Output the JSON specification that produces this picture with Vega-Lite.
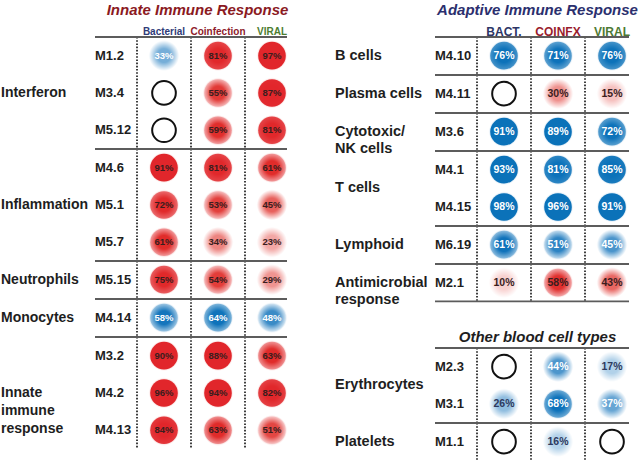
{
  "$schema": "https://vega.github.io/schema/vega-lite/v6.json",
  "padding": {"left": 1, "top": 2, "right": 0, "bottom": 0},
  "config": {"view": {"stroke": null}, "font": "Liberation Sans"},
  "datasets": {
    "modules": [
      {"panel": "innate", "group": "Interferon", "module": "M1.2", "cond": "Bacterial", "value": 0.33, "direction": "down"},
      {"panel": "innate", "group": "Interferon", "module": "M1.2", "cond": "Coinfection", "value": 0.81, "direction": "up"},
      {"panel": "innate", "group": "Interferon", "module": "M1.2", "cond": "Viral", "value": 0.97, "direction": "up"},
      {"panel": "innate", "group": "Interferon", "module": "M3.4", "cond": "Bacterial", "value": null, "direction": null},
      {"panel": "innate", "group": "Interferon", "module": "M3.4", "cond": "Coinfection", "value": 0.55, "direction": "up"},
      {"panel": "innate", "group": "Interferon", "module": "M3.4", "cond": "Viral", "value": 0.87, "direction": "up"},
      {"panel": "innate", "group": "Interferon", "module": "M5.12", "cond": "Bacterial", "value": null, "direction": null},
      {"panel": "innate", "group": "Interferon", "module": "M5.12", "cond": "Coinfection", "value": 0.59, "direction": "up"},
      {"panel": "innate", "group": "Interferon", "module": "M5.12", "cond": "Viral", "value": 0.81, "direction": "up"},
      {"panel": "innate", "group": "Inflammation", "module": "M4.6", "cond": "Bacterial", "value": 0.91, "direction": "up"},
      {"panel": "innate", "group": "Inflammation", "module": "M4.6", "cond": "Coinfection", "value": 0.81, "direction": "up"},
      {"panel": "innate", "group": "Inflammation", "module": "M4.6", "cond": "Viral", "value": 0.61, "direction": "up"},
      {"panel": "innate", "group": "Inflammation", "module": "M5.1", "cond": "Bacterial", "value": 0.72, "direction": "up"},
      {"panel": "innate", "group": "Inflammation", "module": "M5.1", "cond": "Coinfection", "value": 0.53, "direction": "up"},
      {"panel": "innate", "group": "Inflammation", "module": "M5.1", "cond": "Viral", "value": 0.45, "direction": "up"},
      {"panel": "innate", "group": "Inflammation", "module": "M5.7", "cond": "Bacterial", "value": 0.61, "direction": "up"},
      {"panel": "innate", "group": "Inflammation", "module": "M5.7", "cond": "Coinfection", "value": 0.34, "direction": "up"},
      {"panel": "innate", "group": "Inflammation", "module": "M5.7", "cond": "Viral", "value": 0.23, "direction": "up"},
      {"panel": "innate", "group": "Neutrophils", "module": "M5.15", "cond": "Bacterial", "value": 0.75, "direction": "up"},
      {"panel": "innate", "group": "Neutrophils", "module": "M5.15", "cond": "Coinfection", "value": 0.54, "direction": "up"},
      {"panel": "innate", "group": "Neutrophils", "module": "M5.15", "cond": "Viral", "value": 0.29, "direction": "up"},
      {"panel": "innate", "group": "Monocytes", "module": "M4.14", "cond": "Bacterial", "value": 0.58, "direction": "down"},
      {"panel": "innate", "group": "Monocytes", "module": "M4.14", "cond": "Coinfection", "value": 0.64, "direction": "down"},
      {"panel": "innate", "group": "Monocytes", "module": "M4.14", "cond": "Viral", "value": 0.48, "direction": "down"},
      {"panel": "innate", "group": "Innate immune response", "module": "M3.2", "cond": "Bacterial", "value": 0.90, "direction": "up"},
      {"panel": "innate", "group": "Innate immune response", "module": "M3.2", "cond": "Coinfection", "value": 0.88, "direction": "up"},
      {"panel": "innate", "group": "Innate immune response", "module": "M3.2", "cond": "Viral", "value": 0.63, "direction": "up"},
      {"panel": "innate", "group": "Innate immune response", "module": "M4.2", "cond": "Bacterial", "value": 0.96, "direction": "up"},
      {"panel": "innate", "group": "Innate immune response", "module": "M4.2", "cond": "Coinfection", "value": 0.94, "direction": "up"},
      {"panel": "innate", "group": "Innate immune response", "module": "M4.2", "cond": "Viral", "value": 0.82, "direction": "up"},
      {"panel": "innate", "group": "Innate immune response", "module": "M4.13", "cond": "Bacterial", "value": 0.84, "direction": "up"},
      {"panel": "innate", "group": "Innate immune response", "module": "M4.13", "cond": "Coinfection", "value": 0.63, "direction": "up"},
      {"panel": "innate", "group": "Innate immune response", "module": "M4.13", "cond": "Viral", "value": 0.51, "direction": "up"},
      {"panel": "adaptive", "group": "B cells", "module": "M4.10", "cond": "Bacterial", "value": 0.76, "direction": "down"},
      {"panel": "adaptive", "group": "B cells", "module": "M4.10", "cond": "Coinfection", "value": 0.71, "direction": "down"},
      {"panel": "adaptive", "group": "B cells", "module": "M4.10", "cond": "Viral", "value": 0.76, "direction": "down"},
      {"panel": "adaptive", "group": "Plasma cells", "module": "M4.11", "cond": "Bacterial", "value": null, "direction": null},
      {"panel": "adaptive", "group": "Plasma cells", "module": "M4.11", "cond": "Coinfection", "value": 0.30, "direction": "up"},
      {"panel": "adaptive", "group": "Plasma cells", "module": "M4.11", "cond": "Viral", "value": 0.15, "direction": "up"},
      {"panel": "adaptive", "group": "Cytotoxic/NK cells", "module": "M3.6", "cond": "Bacterial", "value": 0.91, "direction": "down"},
      {"panel": "adaptive", "group": "Cytotoxic/NK cells", "module": "M3.6", "cond": "Coinfection", "value": 0.89, "direction": "down"},
      {"panel": "adaptive", "group": "Cytotoxic/NK cells", "module": "M3.6", "cond": "Viral", "value": 0.72, "direction": "down"},
      {"panel": "adaptive", "group": "T cells", "module": "M4.1", "cond": "Bacterial", "value": 0.93, "direction": "down"},
      {"panel": "adaptive", "group": "T cells", "module": "M4.1", "cond": "Coinfection", "value": 0.81, "direction": "down"},
      {"panel": "adaptive", "group": "T cells", "module": "M4.1", "cond": "Viral", "value": 0.85, "direction": "down"},
      {"panel": "adaptive", "group": "T cells", "module": "M4.15", "cond": "Bacterial", "value": 0.98, "direction": "down"},
      {"panel": "adaptive", "group": "T cells", "module": "M4.15", "cond": "Coinfection", "value": 0.96, "direction": "down"},
      {"panel": "adaptive", "group": "T cells", "module": "M4.15", "cond": "Viral", "value": 0.91, "direction": "down"},
      {"panel": "adaptive", "group": "Lymphoid", "module": "M6.19", "cond": "Bacterial", "value": 0.61, "direction": "down"},
      {"panel": "adaptive", "group": "Lymphoid", "module": "M6.19", "cond": "Coinfection", "value": 0.51, "direction": "down"},
      {"panel": "adaptive", "group": "Lymphoid", "module": "M6.19", "cond": "Viral", "value": 0.45, "direction": "down"},
      {"panel": "adaptive", "group": "Antimicrobial response", "module": "M2.1", "cond": "Bacterial", "value": 0.10, "direction": "up"},
      {"panel": "adaptive", "group": "Antimicrobial response", "module": "M2.1", "cond": "Coinfection", "value": 0.58, "direction": "up"},
      {"panel": "adaptive", "group": "Antimicrobial response", "module": "M2.1", "cond": "Viral", "value": 0.43, "direction": "up"},
      {"panel": "other", "group": "Erythrocytes", "module": "M2.3", "cond": "Bacterial", "value": null, "direction": null},
      {"panel": "other", "group": "Erythrocytes", "module": "M2.3", "cond": "Coinfection", "value": 0.44, "direction": "down"},
      {"panel": "other", "group": "Erythrocytes", "module": "M2.3", "cond": "Viral", "value": 0.17, "direction": "down"},
      {"panel": "other", "group": "Erythrocytes", "module": "M3.1", "cond": "Bacterial", "value": 0.26, "direction": "down"},
      {"panel": "other", "group": "Erythrocytes", "module": "M3.1", "cond": "Coinfection", "value": 0.68, "direction": "down"},
      {"panel": "other", "group": "Erythrocytes", "module": "M3.1", "cond": "Viral", "value": 0.37, "direction": "down"},
      {"panel": "other", "group": "Platelets", "module": "M1.1", "cond": "Bacterial", "value": null, "direction": null},
      {"panel": "other", "group": "Platelets", "module": "M1.1", "cond": "Coinfection", "value": 0.16, "direction": "down"},
      {"panel": "other", "group": "Platelets", "module": "M1.1", "cond": "Viral", "value": null, "direction": null}
    ]
  },
  "hconcat": [
    {
      "data": {"name": "modules"},
      "transform": [{"filter": "datum.panel == 'innate'"}],
      "facet": {"row": {"field": "group", "type": "nominal", "title": null,
        "sort": ["Interferon", "Inflammation", "Neutrophils", "Monocytes", "Innate immune response"],
        "header": {"labels": false, "title": null}}},
      "spacing": {"row": 0},
      "align": "each",
      "bounds": "flush",
      "resolve": {"scale": {"y": "independent"}},
      "spec": {
        "width": 204,
        "height": {"step": 37.3},
        "layer": [
          {"transform": [{"window": [{"op": "row_number", "as": "rn"}], "groupby": ["group"]}, {"filter": "datum.rn <= 3"}],
           "mark": {"type": "rule", "color": "#111111", "strokeWidth": 1.6, "strokeDash": [1.6, 1.6]},
           "encoding": {"x": {"field": "cond", "type": "nominal", "bandPosition": 0, "scale": {"type": "band", "domain": ["Bacterial", "Coinfection", "Viral"], "paddingInner": 0, "paddingOuter": 0.3889, "align": 1}}}},
          {"transform": [{"window": [{"op": "row_number", "as": "rn"}], "groupby": ["group"]}, {"filter": "datum.rn == 1"}],
           "mark": {"type": "rule", "color": "#5c5c5c", "strokeWidth": 1.8, "xOffset": -42, "x2Offset": -12},
           "encoding": {
             "x": {"field": "cond", "type": "nominal", "bandPosition": 0, "scale": {"type": "band", "domain": ["Bacterial", "Coinfection", "Viral"], "paddingInner": 0, "paddingOuter": 0.3889, "align": 1}},
             "x2": {"value": "width"},
             "y": {"field": "module", "type": "nominal", "sort": null, "bandPosition": 0, "scale": {"type": "band", "paddingInner": 0, "paddingOuter": 0}, "axis": null}}},
          {"transform": [{"filter": "datum.value == null"}],
           "mark": {"type": "point", "filled": false, "stroke": "#111111", "strokeWidth": 2, "size": 560, "opacity": 1},
           "encoding": {
             "x": {"field": "cond", "type": "nominal", "scale": {"type": "band", "domain": ["Bacterial", "Coinfection", "Viral"], "paddingInner": 0, "paddingOuter": 0.3889, "align": 1}},
             "y": {"field": "module", "type": "nominal", "sort": null, "scale": {"type": "band", "paddingInner": 0, "paddingOuter": 0}, "axis": null}}},
          {"transform": [{"filter": "datum.value != null && datum.direction == 'up'"}],
           "mark": {"type": "point", "filled": true, "size": 920, "strokeWidth": 0,
             "fill": {"gradient": "radial", "x1": 0.5, "y1": 0.5, "r1": 0, "x2": 0.5, "y2": 0.5, "r2": 0.5, "stops": [{"offset": 0, "color": "#e0302a"}, {"offset": 0.45, "color": "#e0302a"}, {"offset": 1, "color": "rgba(226,48,43,0)"}]}},
           "encoding": {
             "x": {"field": "cond", "type": "nominal", "scale": {"type": "band", "domain": ["Bacterial", "Coinfection", "Viral"], "paddingInner": 0, "paddingOuter": 0.3889, "align": 1}},
             "y": {"field": "module", "type": "nominal", "sort": null, "scale": {"type": "band", "paddingInner": 0, "paddingOuter": 0}, "axis": null},
             "opacity": {"field": "value", "type": "quantitative", "scale": {"domain": [0.1, 0.6], "range": [0.22, 1], "clamp": true}, "legend": null}}},
          {"transform": [{"filter": "datum.value != null && datum.direction == 'down'"}],
           "mark": {"type": "point", "filled": true, "size": 920, "strokeWidth": 0,
             "fill": {"gradient": "radial", "x1": 0.5, "y1": 0.5, "r1": 0, "x2": 0.5, "y2": 0.5, "r2": 0.5, "stops": [{"offset": 0, "color": "#1273bb"}, {"offset": 0.45, "color": "#1273bb"}, {"offset": 1, "color": "rgba(18,115,187,0)"}]}},
           "encoding": {
             "x": {"field": "cond", "type": "nominal", "scale": {"type": "band", "domain": ["Bacterial", "Coinfection", "Viral"], "paddingInner": 0, "paddingOuter": 0.3889, "align": 1}},
             "y": {"field": "module", "type": "nominal", "sort": null, "scale": {"type": "band", "paddingInner": 0, "paddingOuter": 0}, "axis": null},
             "opacity": {"field": "value", "type": "quantitative", "scale": {"domain": [0.1, 0.6], "range": [0.22, 1], "clamp": true}, "legend": null}}},
          {"transform": [{"filter": "datum.value != null"}],
           "mark": {"type": "point", "filled": true, "size": 760, "strokeWidth": 0, "opacity": 1},
           "encoding": {
             "x": {"field": "cond", "type": "nominal", "scale": {"type": "band", "domain": ["Bacterial", "Coinfection", "Viral"], "paddingInner": 0, "paddingOuter": 0.3889, "align": 1},
               "axis": {"orient": "top", "title": "Innate Immune Response", "ticks": false, "tickSize": 0, "domain": false, "grid": false, "labelOverlap": false, "bandPosition": 0.5,
                 "labelExpr": "datum.value == 'Viral' ? 'VIRAL' : datum.value",
                 "labelFont": "Liberation Sans", "labelFontSize": 10, "labelFontWeight": "bold", "labelPadding": 6, "labelAngle": 0, "labelAlign": "center",
                 "labelColor": {"expr": "datum.value == 'Bacterial' ? '#2f3b78' : datum.value == 'Coinfection' ? '#8e1b2c' : '#4d7d30'"},
                 "titleFont": "Liberation Sans", "titleFontSize": 15, "titleFontStyle": "italic", "titleFontWeight": "bold", "titleColor": "#8b1a1f", "titlePadding": 9}},
             "y": {"field": "module", "type": "nominal", "sort": null, "scale": {"type": "band", "paddingInner": 0, "paddingOuter": 0}, "axis": null},
             "color": {"field": "direction", "type": "nominal", "scale": {"domain": ["up", "down"], "range": ["#e1262b", "#0b72b9"]}, "legend": null},
             "fillOpacity": {"field": "value", "type": "quantitative", "scale": {"domain": [0.45, 0.88], "range": [0, 1], "clamp": true}, "legend": null}}},
          {"transform": [{"filter": "datum.value != null"}],
           "mark": {"type": "text", "font": "Liberation Sans", "fontWeight": "bold", "fontSize": 9.5},
           "encoding": {
             "x": {"field": "cond", "type": "nominal", "scale": {"type": "band", "domain": ["Bacterial", "Coinfection", "Viral"], "paddingInner": 0, "paddingOuter": 0.3889, "align": 1}},
             "y": {"field": "module", "type": "nominal", "sort": null, "scale": {"type": "band", "paddingInner": 0, "paddingOuter": 0}, "axis": null},
             "text": {"field": "value", "type": "quantitative", "format": ".0%"},
             "color": {"condition": [{"test": "datum.direction == 'down' && datum.value >= 0.3", "value": "#ffffff"}, {"test": "datum.direction == 'down'", "value": "#2d3a5e"}], "value": "#3a1e1e"}}},
          {"transform": [{"filter": "datum.cond == 'Bacterial'"}],
           "mark": {"type": "text", "align": "left", "dx": -42, "font": "Liberation Sans", "fontWeight": "bold", "fontSize": 13, "color": "#1e1e1e"},
           "encoding": {
             "x": {"field": "cond", "type": "nominal", "bandPosition": 0, "scale": {"type": "band", "domain": ["Bacterial", "Coinfection", "Viral"], "paddingInner": 0, "paddingOuter": 0.3889, "align": 1}},
             "y": {"field": "module", "type": "nominal", "sort": null, "scale": {"type": "band", "paddingInner": 0, "paddingOuter": 0}, "axis": null},
             "text": {"field": "module", "type": "nominal"}}},
          {"transform": [{"window": [{"op": "row_number", "as": "rn"}], "groupby": ["group"]},
             {"joinaggregate": [{"op": "count", "as": "n"}], "groupby": ["group"]},
             {"filter": "datum.cond == 'Bacterial'"},
             {"calculate": "(datum.rn + 2) / 3", "as": "k"},
             {"calculate": "datum.n / 3", "as": "m"},
             {"filter": "datum.m % 2 == 1 && datum.k == (datum.m + 1) / 2"},
             {"calculate": "datum.group == 'Innate immune response' ? ['Innate','immune','response'] : datum.group", "as": "label"}],
           "mark": {"type": "text", "align": "left", "baseline": "middle", "dx": -136, "font": "Liberation Sans", "fontWeight": "bold", "fontSize": 14, "lineHeight": 18, "color": "#1e1e1e"},
           "encoding": {
             "x": {"field": "cond", "type": "nominal", "bandPosition": 0, "scale": {"type": "band", "domain": ["Bacterial", "Coinfection", "Viral"], "paddingInner": 0, "paddingOuter": 0.3889, "align": 1}},
             "y": {"field": "module", "type": "nominal", "sort": null, "scale": {"type": "band", "paddingInner": 0, "paddingOuter": 0}, "axis": null},
             "text": {"field": "label"}}}
        ]
      }
    },
    {
      "spacing": 22,
      "vconcat": [
        {
          "data": {"name": "modules"},
          "transform": [{"filter": "datum.panel == 'adaptive'"}],
          "facet": {"row": {"field": "group", "type": "nominal", "title": null,
            "sort": ["B cells", "Plasma cells", "Cytotoxic/NK cells", "T cells", "Lymphoid", "Antimicrobial response"],
            "header": {"labels": false, "title": null}}},
          "spacing": {"row": 0},
          "align": "each",
          "bounds": "flush",
          "resolve": {"scale": {"y": "independent"}},
          "spec": {
            "width": 204,
            "height": {"step": 37.3},
            "layer": [
              {"transform": [{"window": [{"op": "row_number", "as": "rn"}], "groupby": ["group"]}, {"filter": "datum.rn <= 3"}],
               "mark": {"type": "rule", "color": "#111111", "strokeWidth": 1.6, "strokeDash": [1.6, 1.6]},
               "encoding": {"x": {"field": "cond", "type": "nominal", "bandPosition": 0, "scale": {"type": "band", "domain": ["Bacterial", "Coinfection", "Viral"], "paddingInner": 0, "paddingOuter": 0.3889, "align": 1}}}},
              {"transform": [{"window": [{"op": "row_number", "as": "rn"}], "groupby": ["group"]}, {"filter": "datum.rn == 1"}],
               "mark": {"type": "rule", "color": "#5c5c5c", "strokeWidth": 1.8, "xOffset": -42, "x2Offset": -10},
               "encoding": {
                 "x": {"field": "cond", "type": "nominal", "bandPosition": 0, "scale": {"type": "band", "domain": ["Bacterial", "Coinfection", "Viral"], "paddingInner": 0, "paddingOuter": 0.3889, "align": 1}},
                 "x2": {"value": "width"},
                 "y": {"field": "module", "type": "nominal", "sort": null, "bandPosition": 0, "scale": {"type": "band", "paddingInner": 0, "paddingOuter": 0}, "axis": null}}},
              {"transform": [{"filter": "datum.group == 'Antimicrobial response' && datum.cond == 'Bacterial'"}],
               "mark": {"type": "rule", "color": "#5c5c5c", "strokeWidth": 1.8, "xOffset": -42, "x2Offset": -10},
               "encoding": {
                 "x": {"field": "cond", "type": "nominal", "bandPosition": 0, "scale": {"type": "band", "domain": ["Bacterial", "Coinfection", "Viral"], "paddingInner": 0, "paddingOuter": 0.3889, "align": 1}},
                 "x2": {"value": "width"},
                 "y": {"field": "module", "type": "nominal", "sort": null, "bandPosition": 1, "scale": {"type": "band", "paddingInner": 0, "paddingOuter": 0}, "axis": null}}},
              {"transform": [{"filter": "datum.value == null"}],
               "mark": {"type": "point", "filled": false, "stroke": "#111111", "strokeWidth": 2, "size": 560, "opacity": 1},
               "encoding": {
                 "x": {"field": "cond", "type": "nominal", "scale": {"type": "band", "domain": ["Bacterial", "Coinfection", "Viral"], "paddingInner": 0, "paddingOuter": 0.3889, "align": 1}},
                 "y": {"field": "module", "type": "nominal", "sort": null, "scale": {"type": "band", "paddingInner": 0, "paddingOuter": 0}, "axis": null}}},
              {"transform": [{"filter": "datum.value != null && datum.direction == 'up'"}],
               "mark": {"type": "point", "filled": true, "size": 920, "strokeWidth": 0,
                 "fill": {"gradient": "radial", "x1": 0.5, "y1": 0.5, "r1": 0, "x2": 0.5, "y2": 0.5, "r2": 0.5, "stops": [{"offset": 0, "color": "#e0302a"}, {"offset": 0.45, "color": "#e0302a"}, {"offset": 1, "color": "rgba(226,48,43,0)"}]}},
               "encoding": {
                 "x": {"field": "cond", "type": "nominal", "scale": {"type": "band", "domain": ["Bacterial", "Coinfection", "Viral"], "paddingInner": 0, "paddingOuter": 0.3889, "align": 1}},
                 "y": {"field": "module", "type": "nominal", "sort": null, "scale": {"type": "band", "paddingInner": 0, "paddingOuter": 0}, "axis": null},
                 "opacity": {"field": "value", "type": "quantitative", "scale": {"domain": [0.1, 0.6], "range": [0.22, 1], "clamp": true}, "legend": null}}},
              {"transform": [{"filter": "datum.value != null && datum.direction == 'down'"}],
               "mark": {"type": "point", "filled": true, "size": 920, "strokeWidth": 0,
                 "fill": {"gradient": "radial", "x1": 0.5, "y1": 0.5, "r1": 0, "x2": 0.5, "y2": 0.5, "r2": 0.5, "stops": [{"offset": 0, "color": "#1273bb"}, {"offset": 0.45, "color": "#1273bb"}, {"offset": 1, "color": "rgba(18,115,187,0)"}]}},
               "encoding": {
                 "x": {"field": "cond", "type": "nominal", "scale": {"type": "band", "domain": ["Bacterial", "Coinfection", "Viral"], "paddingInner": 0, "paddingOuter": 0.3889, "align": 1}},
                 "y": {"field": "module", "type": "nominal", "sort": null, "scale": {"type": "band", "paddingInner": 0, "paddingOuter": 0}, "axis": null},
                 "opacity": {"field": "value", "type": "quantitative", "scale": {"domain": [0.1, 0.6], "range": [0.22, 1], "clamp": true}, "legend": null}}},
              {"transform": [{"filter": "datum.value != null"}],
               "mark": {"type": "point", "filled": true, "size": 760, "strokeWidth": 0, "opacity": 1},
               "encoding": {
                 "x": {"field": "cond", "type": "nominal", "scale": {"type": "band", "domain": ["Bacterial", "Coinfection", "Viral"], "paddingInner": 0, "paddingOuter": 0.3889, "align": 1},
                   "axis": {"orient": "top", "title": "Adaptive Immune Response", "ticks": false, "tickSize": 0, "domain": false, "grid": false, "labelOverlap": false, "bandPosition": 0.5,
                     "labelExpr": "datum.value == 'Bacterial' ? 'BACT.' : datum.value == 'Coinfection' ? 'COINFX' : 'VIRAL'",
                     "labelFont": "Liberation Sans", "labelFontSize": 12, "labelFontWeight": "bold", "labelPadding": 6, "labelAngle": 0, "labelAlign": "center",
                     "labelColor": {"expr": "datum.value == 'Bacterial' ? '#2c3566' : datum.value == 'Coinfection' ? '#9a1c2c' : '#4e7a34'"},
                     "titleFont": "Liberation Sans", "titleFontSize": 15, "titleFontStyle": "italic", "titleFontWeight": "bold", "titleColor": "#2b2f6e", "titlePadding": 8}},
                 "y": {"field": "module", "type": "nominal", "sort": null, "scale": {"type": "band", "paddingInner": 0, "paddingOuter": 0}, "axis": null},
                 "color": {"field": "direction", "type": "nominal", "scale": {"domain": ["up", "down"], "range": ["#e1262b", "#0b72b9"]}, "legend": null},
                 "fillOpacity": {"field": "value", "type": "quantitative", "scale": {"domain": [0.45, 0.88], "range": [0, 1], "clamp": true}, "legend": null}}},
              {"transform": [{"filter": "datum.value != null"}],
               "mark": {"type": "text", "font": "Liberation Sans", "fontWeight": "bold", "fontSize": 10.5},
               "encoding": {
                 "x": {"field": "cond", "type": "nominal", "scale": {"type": "band", "domain": ["Bacterial", "Coinfection", "Viral"], "paddingInner": 0, "paddingOuter": 0.3889, "align": 1}},
                 "y": {"field": "module", "type": "nominal", "sort": null, "scale": {"type": "band", "paddingInner": 0, "paddingOuter": 0}, "axis": null},
                 "text": {"field": "value", "type": "quantitative", "format": ".0%"},
                 "color": {"condition": [{"test": "datum.direction == 'down' && datum.value >= 0.3", "value": "#ffffff"}, {"test": "datum.direction == 'down'", "value": "#2d3a5e"}], "value": "#3a1e1e"}}},
              {"transform": [{"filter": "datum.cond == 'Bacterial'"}],
               "mark": {"type": "text", "align": "left", "dx": -42, "font": "Liberation Sans", "fontWeight": "bold", "fontSize": 13, "color": "#1e1e1e"},
               "encoding": {
                 "x": {"field": "cond", "type": "nominal", "bandPosition": 0, "scale": {"type": "band", "domain": ["Bacterial", "Coinfection", "Viral"], "paddingInner": 0, "paddingOuter": 0.3889, "align": 1}},
                 "y": {"field": "module", "type": "nominal", "sort": null, "scale": {"type": "band", "paddingInner": 0, "paddingOuter": 0}, "axis": null},
                 "text": {"field": "module", "type": "nominal"}}},
              {"transform": [{"window": [{"op": "row_number", "as": "rn"}], "groupby": ["group"]},
                 {"joinaggregate": [{"op": "count", "as": "n"}], "groupby": ["group"]},
                 {"filter": "datum.cond == 'Bacterial'"},
                 {"calculate": "(datum.rn + 2) / 3", "as": "k"},
                 {"calculate": "datum.n / 3", "as": "m"},
                 {"filter": "datum.m % 2 == 1 && datum.k == (datum.m + 1) / 2"},
                 {"calculate": "datum.group == 'Cytotoxic/NK cells' ? ['Cytotoxic/','NK cells'] : datum.group == 'Antimicrobial response' ? ['Antimicrobial','response'] : datum.group", "as": "label"}],
               "mark": {"type": "text", "align": "left", "baseline": "middle", "dx": -142, "font": "Liberation Sans", "fontWeight": "bold", "fontSize": 14.5, "lineHeight": 17, "color": "#1e1e1e"},
               "encoding": {
                 "x": {"field": "cond", "type": "nominal", "bandPosition": 0, "scale": {"type": "band", "domain": ["Bacterial", "Coinfection", "Viral"], "paddingInner": 0, "paddingOuter": 0.3889, "align": 1}},
                 "y": {"field": "module", "type": "nominal", "sort": null, "scale": {"type": "band", "paddingInner": 0, "paddingOuter": 0}, "axis": null},
                 "text": {"field": "label"}}},
              {"transform": [{"window": [{"op": "row_number", "as": "rn"}], "groupby": ["group"]},
                 {"joinaggregate": [{"op": "count", "as": "n"}], "groupby": ["group"]},
                 {"filter": "datum.cond == 'Bacterial'"},
                 {"calculate": "(datum.rn + 2) / 3", "as": "k"},
                 {"calculate": "datum.n / 3", "as": "m"},
                 {"filter": "datum.m % 2 == 0 && datum.k == datum.m / 2"}],
               "mark": {"type": "text", "align": "left", "baseline": "middle", "dx": -142, "font": "Liberation Sans", "fontWeight": "bold", "fontSize": 14.5, "color": "#1e1e1e"},
               "encoding": {
                 "x": {"field": "cond", "type": "nominal", "bandPosition": 0, "scale": {"type": "band", "domain": ["Bacterial", "Coinfection", "Viral"], "paddingInner": 0, "paddingOuter": 0.3889, "align": 1}},
                 "y": {"field": "module", "type": "nominal", "sort": null, "bandPosition": 1, "scale": {"type": "band", "paddingInner": 0, "paddingOuter": 0}, "axis": null},
                 "text": {"field": "group"}}}
            ]
          }
        },
        {
          "data": {"name": "modules"},
          "transform": [{"filter": "datum.panel == 'other'"}],
          "facet": {"row": {"field": "group", "type": "nominal", "title": null,
            "sort": ["Erythrocytes", "Platelets"],
            "header": {"labels": false, "title": null}}},
          "spacing": {"row": 0},
          "align": "each",
          "bounds": "flush",
          "resolve": {"scale": {"y": "independent"}},
          "spec": {
            "width": 204,
            "height": {"step": 37.3},
            "layer": [
              {"transform": [{"window": [{"op": "row_number", "as": "rn"}], "groupby": ["group"]}, {"filter": "datum.rn <= 3"}],
               "mark": {"type": "rule", "color": "#111111", "strokeWidth": 1.6, "strokeDash": [1.6, 1.6]},
               "encoding": {"x": {"field": "cond", "type": "nominal", "bandPosition": 0, "scale": {"type": "band", "domain": ["Bacterial", "Coinfection", "Viral"], "paddingInner": 0, "paddingOuter": 0.3889, "align": 1}}}},
              {"transform": [{"window": [{"op": "row_number", "as": "rn"}], "groupby": ["group"]}, {"filter": "datum.rn == 1"}],
               "mark": {"type": "rule", "color": "#5c5c5c", "strokeWidth": 1.8, "xOffset": -42, "x2Offset": -10},
               "encoding": {
                 "x": {"field": "cond", "type": "nominal", "bandPosition": 0, "scale": {"type": "band", "domain": ["Bacterial", "Coinfection", "Viral"], "paddingInner": 0, "paddingOuter": 0.3889, "align": 1}},
                 "x2": {"value": "width"},
                 "y": {"field": "module", "type": "nominal", "sort": null, "bandPosition": 0, "scale": {"type": "band", "paddingInner": 0, "paddingOuter": 0}, "axis": null}}},
              {"transform": [{"filter": "datum.value == null"}],
               "mark": {"type": "point", "filled": false, "stroke": "#111111", "strokeWidth": 2, "size": 560, "opacity": 1},
               "encoding": {
                 "x": {"field": "cond", "type": "nominal", "scale": {"type": "band", "domain": ["Bacterial", "Coinfection", "Viral"], "paddingInner": 0, "paddingOuter": 0.3889, "align": 1}},
                 "y": {"field": "module", "type": "nominal", "sort": null, "scale": {"type": "band", "paddingInner": 0, "paddingOuter": 0}, "axis": null}}},
              {"transform": [{"filter": "datum.value != null && datum.direction == 'up'"}],
               "mark": {"type": "point", "filled": true, "size": 920, "strokeWidth": 0,
                 "fill": {"gradient": "radial", "x1": 0.5, "y1": 0.5, "r1": 0, "x2": 0.5, "y2": 0.5, "r2": 0.5, "stops": [{"offset": 0, "color": "#e0302a"}, {"offset": 0.45, "color": "#e0302a"}, {"offset": 1, "color": "rgba(226,48,43,0)"}]}},
               "encoding": {
                 "x": {"field": "cond", "type": "nominal", "scale": {"type": "band", "domain": ["Bacterial", "Coinfection", "Viral"], "paddingInner": 0, "paddingOuter": 0.3889, "align": 1}},
                 "y": {"field": "module", "type": "nominal", "sort": null, "scale": {"type": "band", "paddingInner": 0, "paddingOuter": 0}, "axis": null},
                 "opacity": {"field": "value", "type": "quantitative", "scale": {"domain": [0.1, 0.6], "range": [0.22, 1], "clamp": true}, "legend": null}}},
              {"transform": [{"filter": "datum.value != null && datum.direction == 'down'"}],
               "mark": {"type": "point", "filled": true, "size": 920, "strokeWidth": 0,
                 "fill": {"gradient": "radial", "x1": 0.5, "y1": 0.5, "r1": 0, "x2": 0.5, "y2": 0.5, "r2": 0.5, "stops": [{"offset": 0, "color": "#1273bb"}, {"offset": 0.45, "color": "#1273bb"}, {"offset": 1, "color": "rgba(18,115,187,0)"}]}},
               "encoding": {
                 "x": {"field": "cond", "type": "nominal", "scale": {"type": "band", "domain": ["Bacterial", "Coinfection", "Viral"], "paddingInner": 0, "paddingOuter": 0.3889, "align": 1}},
                 "y": {"field": "module", "type": "nominal", "sort": null, "scale": {"type": "band", "paddingInner": 0, "paddingOuter": 0}, "axis": null},
                 "opacity": {"field": "value", "type": "quantitative", "scale": {"domain": [0.1, 0.6], "range": [0.22, 1], "clamp": true}, "legend": null}}},
              {"transform": [{"filter": "datum.value != null"}],
               "mark": {"type": "point", "filled": true, "size": 760, "strokeWidth": 0, "opacity": 1},
               "encoding": {
                 "x": {"field": "cond", "type": "nominal", "scale": {"type": "band", "domain": ["Bacterial", "Coinfection", "Viral"], "paddingInner": 0, "paddingOuter": 0.3889, "align": 1},
                   "axis": {"orient": "top", "title": "Other blood cell types", "ticks": false, "tickSize": 0, "domain": false, "grid": false, "labels": false,
                     "titleFont": "Liberation Sans", "titleFontSize": 15, "titleFontStyle": "italic", "titleFontWeight": "bold", "titleColor": "#1e1e1e", "titlePadding": 4}},
                 "y": {"field": "module", "type": "nominal", "sort": null, "scale": {"type": "band", "paddingInner": 0, "paddingOuter": 0}, "axis": null},
                 "color": {"field": "direction", "type": "nominal", "scale": {"domain": ["up", "down"], "range": ["#e1262b", "#0b72b9"]}, "legend": null},
                 "fillOpacity": {"field": "value", "type": "quantitative", "scale": {"domain": [0.45, 0.88], "range": [0, 1], "clamp": true}, "legend": null}}},
              {"transform": [{"filter": "datum.value != null"}],
               "mark": {"type": "text", "font": "Liberation Sans", "fontWeight": "bold", "fontSize": 10.5},
               "encoding": {
                 "x": {"field": "cond", "type": "nominal", "scale": {"type": "band", "domain": ["Bacterial", "Coinfection", "Viral"], "paddingInner": 0, "paddingOuter": 0.3889, "align": 1}},
                 "y": {"field": "module", "type": "nominal", "sort": null, "scale": {"type": "band", "paddingInner": 0, "paddingOuter": 0}, "axis": null},
                 "text": {"field": "value", "type": "quantitative", "format": ".0%"},
                 "color": {"condition": [{"test": "datum.direction == 'down' && datum.value >= 0.3", "value": "#ffffff"}, {"test": "datum.direction == 'down'", "value": "#2d3a5e"}], "value": "#3a1e1e"}}},
              {"transform": [{"filter": "datum.cond == 'Bacterial'"}],
               "mark": {"type": "text", "align": "left", "dx": -42, "font": "Liberation Sans", "fontWeight": "bold", "fontSize": 13, "color": "#1e1e1e"},
               "encoding": {
                 "x": {"field": "cond", "type": "nominal", "bandPosition": 0, "scale": {"type": "band", "domain": ["Bacterial", "Coinfection", "Viral"], "paddingInner": 0, "paddingOuter": 0.3889, "align": 1}},
                 "y": {"field": "module", "type": "nominal", "sort": null, "scale": {"type": "band", "paddingInner": 0, "paddingOuter": 0}, "axis": null},
                 "text": {"field": "module", "type": "nominal"}}},
              {"transform": [{"window": [{"op": "row_number", "as": "rn"}], "groupby": ["group"]},
                 {"joinaggregate": [{"op": "count", "as": "n"}], "groupby": ["group"]},
                 {"filter": "datum.cond == 'Bacterial'"},
                 {"calculate": "(datum.rn + 2) / 3", "as": "k"},
                 {"calculate": "datum.n / 3", "as": "m"},
                 {"filter": "datum.m % 2 == 1 && datum.k == (datum.m + 1) / 2"}],
               "mark": {"type": "text", "align": "left", "baseline": "middle", "dx": -142, "font": "Liberation Sans", "fontWeight": "bold", "fontSize": 14.5, "color": "#1e1e1e"},
               "encoding": {
                 "x": {"field": "cond", "type": "nominal", "bandPosition": 0, "scale": {"type": "band", "domain": ["Bacterial", "Coinfection", "Viral"], "paddingInner": 0, "paddingOuter": 0.3889, "align": 1}},
                 "y": {"field": "module", "type": "nominal", "sort": null, "scale": {"type": "band", "paddingInner": 0, "paddingOuter": 0}, "axis": null},
                 "text": {"field": "group"}}},
              {"transform": [{"window": [{"op": "row_number", "as": "rn"}], "groupby": ["group"]},
                 {"joinaggregate": [{"op": "count", "as": "n"}], "groupby": ["group"]},
                 {"filter": "datum.cond == 'Bacterial'"},
                 {"calculate": "(datum.rn + 2) / 3", "as": "k"},
                 {"calculate": "datum.n / 3", "as": "m"},
                 {"filter": "datum.m % 2 == 0 && datum.k == datum.m / 2"}],
               "mark": {"type": "text", "align": "left", "baseline": "middle", "dx": -142, "font": "Liberation Sans", "fontWeight": "bold", "fontSize": 14.5, "color": "#1e1e1e"},
               "encoding": {
                 "x": {"field": "cond", "type": "nominal", "bandPosition": 0, "scale": {"type": "band", "domain": ["Bacterial", "Coinfection", "Viral"], "paddingInner": 0, "paddingOuter": 0.3889, "align": 1}},
                 "y": {"field": "module", "type": "nominal", "sort": null, "bandPosition": 1, "scale": {"type": "band", "paddingInner": 0, "paddingOuter": 0}, "axis": null},
                 "text": {"field": "group"}}}
            ]
          }
        }
      ]
    }
  ],
  "spacing": 36
}
